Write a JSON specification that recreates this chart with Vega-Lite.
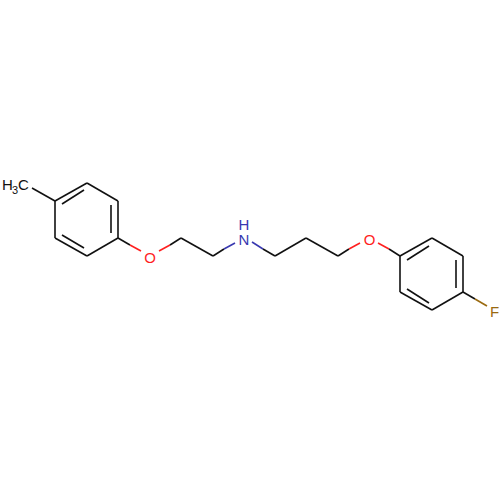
{
  "$schema": "https://vega.github.io/schema/vega-lite/v6.json",
  "width": 500,
  "height": 500,
  "padding": 0,
  "autosize": {"type": "fit", "contains": "padding"},
  "background": "white",
  "config": {"view": {"stroke": null}},
  "datasets": {
    "bonds": [
      {"a": 32, "b": 188, "c": 55, "d": 201, "element": "C"},
      {"a": 55, "b": 201, "c": 87, "d": 183, "element": "C"},
      {"a": 87, "b": 183, "c": 118, "d": 201, "element": "C"},
      {"a": 118, "b": 201, "c": 118, "d": 238, "element": "C"},
      {"a": 118, "b": 238, "c": 87, "d": 256, "element": "C"},
      {"a": 87, "b": 256, "c": 55, "d": 238, "element": "C"},
      {"a": 55, "b": 238, "c": 55, "d": 201, "element": "C"},
      {"a": 62, "b": 204, "c": 84, "d": 190, "element": "C"},
      {"a": 111, "b": 205, "c": 111, "d": 233, "element": "C"},
      {"a": 84, "b": 248, "c": 62, "d": 235, "element": "C"},
      {"a": 118, "b": 238, "c": 130, "d": 245, "element": "C"},
      {"a": 130, "b": 245, "c": 141, "d": 251, "element": "O"},
      {"a": 159, "b": 251, "c": 170, "d": 245, "element": "O"},
      {"a": 170, "b": 245, "c": 181, "d": 238, "element": "C"},
      {"a": 181, "b": 238, "c": 213, "d": 256, "element": "C"},
      {"a": 213, "b": 256, "c": 224, "d": 249, "element": "C"},
      {"a": 224, "b": 249, "c": 235, "d": 243, "element": "N"},
      {"a": 252, "b": 242, "c": 263, "d": 249, "element": "N"},
      {"a": 263, "b": 249, "c": 275, "d": 256, "element": "C"},
      {"a": 275, "b": 256, "c": 306, "d": 238, "element": "C"},
      {"a": 306, "b": 238, "c": 338, "d": 256, "element": "C"},
      {"a": 338, "b": 256, "c": 349, "d": 249, "element": "C"},
      {"a": 349, "b": 249, "c": 360, "d": 243, "element": "O"},
      {"a": 378, "b": 243, "c": 389, "d": 249, "element": "O"},
      {"a": 389, "b": 249, "c": 400, "d": 256, "element": "C"},
      {"a": 400, "b": 256, "c": 432, "d": 238, "element": "C"},
      {"a": 432, "b": 238, "c": 463, "d": 256, "element": "C"},
      {"a": 463, "b": 256, "c": 463, "d": 292, "element": "C"},
      {"a": 463, "b": 292, "c": 432, "d": 310, "element": "C"},
      {"a": 432, "b": 310, "c": 400, "d": 292, "element": "C"},
      {"a": 400, "b": 292, "c": 400, "d": 256, "element": "C"},
      {"a": 407, "b": 260, "c": 429, "d": 246, "element": "C"},
      {"a": 456, "b": 260, "c": 456, "d": 288, "element": "C"},
      {"a": 429, "b": 303, "c": 407, "d": 289, "element": "C"},
      {"a": 463, "b": 292, "c": 475, "d": 299, "element": "C"},
      {"a": 475, "b": 299, "c": 487, "d": 306, "element": "F"}
    ],
    "labels": [
      {"a": 7.5, "b": 185, "label": "H", "element": "C"},
      {"a": 23.5, "b": 185, "label": "C", "element": "C"},
      {"a": 150, "b": 257.5, "label": "O", "element": "O"},
      {"a": 244, "b": 239.5, "label": "N", "element": "N"},
      {"a": 244, "b": 225, "label": "H", "element": "N"},
      {"a": 369.5, "b": 239.5, "label": "O", "element": "O"},
      {"a": 494.5, "b": 311.5, "label": "F", "element": "F"}
    ],
    "subs": [
      {"a": 15, "b": 191, "label": "3", "element": "C"}
    ]
  },
  "encoding": {
    "x": {"field": "a", "type": "quantitative", "axis": null, "scale": {"domain": [0, 500], "nice": false}},
    "y": {"field": "b", "type": "quantitative", "axis": null, "scale": {"domain": [500, 0], "nice": false}},
    "color": {
      "field": "element",
      "type": "nominal",
      "legend": null,
      "scale": {"domain": ["C", "O", "N", "F"], "range": ["#111111", "#ff1f1f", "#3838b0", "#9a6a10"]}
    }
  },
  "layer": [
    {
      "data": {"name": "bonds"},
      "mark": {"type": "rule", "strokeWidth": 1.6},
      "encoding": {
        "x2": {"field": "c"},
        "y2": {"field": "d"}
      }
    },
    {
      "data": {"name": "labels"},
      "mark": {"type": "text", "font": "Liberation Sans", "fontSize": 15, "align": "center", "baseline": "middle"},
      "encoding": {"text": {"field": "label"}}
    },
    {
      "data": {"name": "subs"},
      "mark": {"type": "text", "font": "Liberation Sans", "fontSize": 11, "align": "center", "baseline": "middle"},
      "encoding": {"text": {"field": "label"}}
    }
  ]
}
